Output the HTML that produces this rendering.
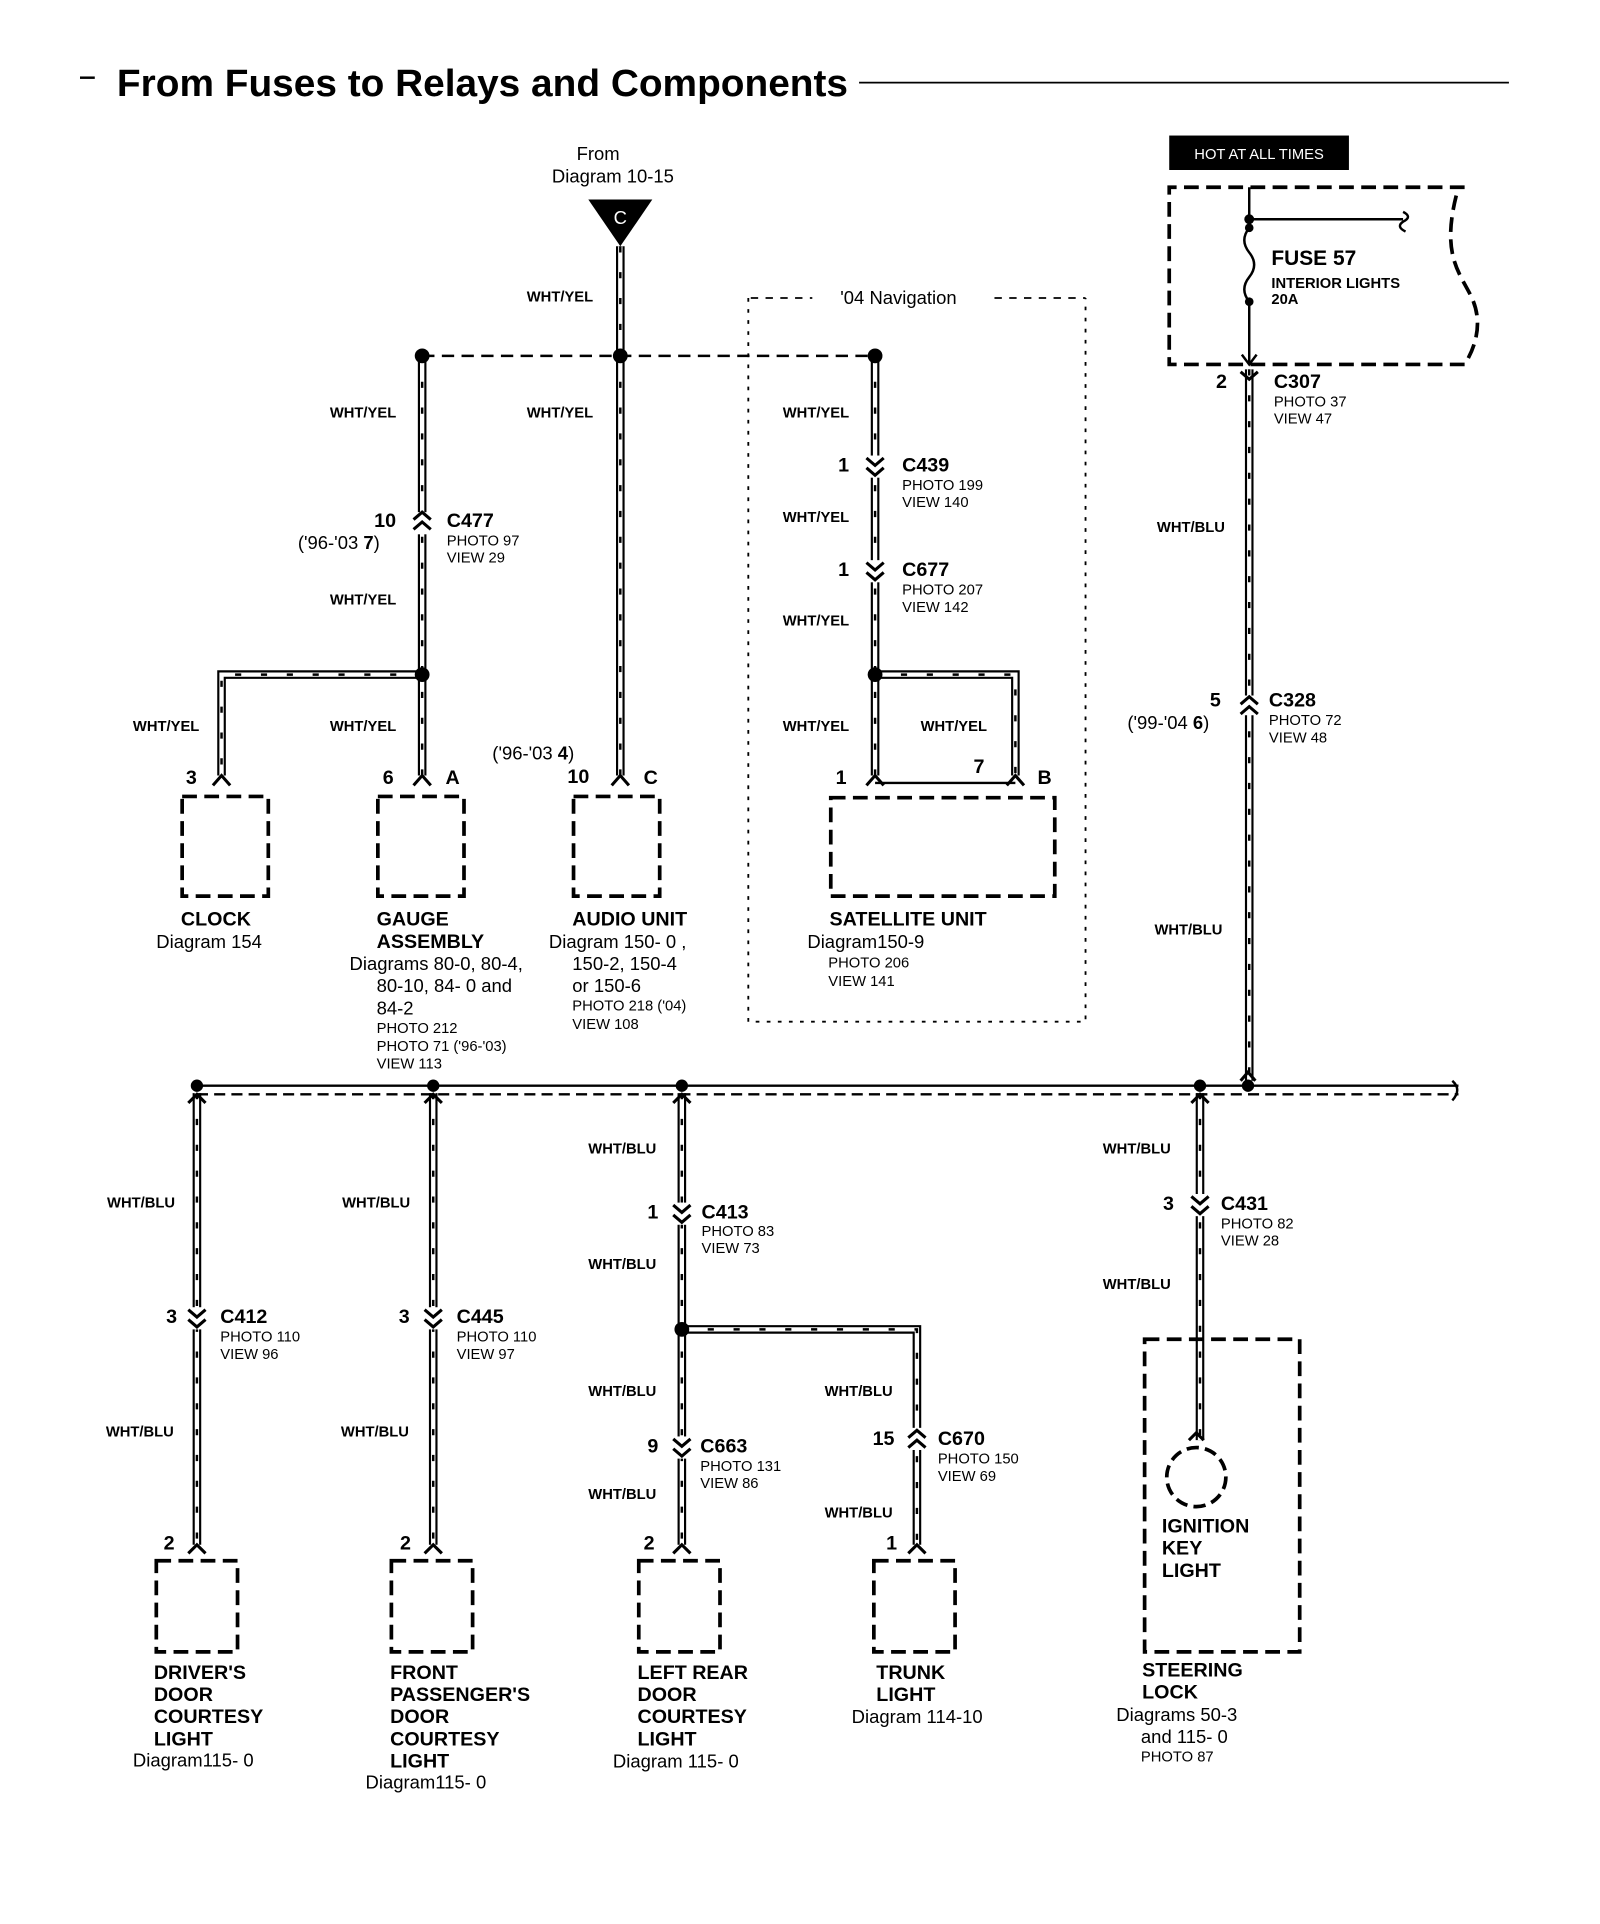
<!DOCTYPE html>
<html><head><meta charset="utf-8"><style>
html,body{margin:0;padding:0;background:#fff}
svg{display:block}
text{font-family:"Liberation Sans Narrow","Liberation Sans",sans-serif;fill:#000}
.b{font-weight:bold}
.s{font-size:12px}
.m{font-size:15px}
.l{font-size:16px;font-weight:bold}
.wl{font-size:12px;font-weight:bold}
.bx{fill:none;stroke:#000;stroke-width:3;stroke-dasharray:12 6}
.c{fill:none;stroke:#000;stroke-width:2.5}
</style></head><body>
<svg width="1600" height="1924" viewBox="0 0 1300 1563" xmlns="http://www.w3.org/2000/svg">
<g id="wires" fill="none">
<path class="wire" d="M504 200 V289"/>
<path class="wire" d="M343 289 V630"/>
<path class="wire" d="M343 548 H180 V630"/>
<path class="wire" d="M504 289 V630"/>
<path class="wire" d="M711 289 V630"/>
<path class="wire" d="M711 548 H825 V630"/>
<path class="wire" d="M1015 300 V878"/>
<path class="wire" d="M160 888 V1255"/>
<path class="wire" d="M352 888 V1255"/>
<path class="wire" d="M554 888 V1255"/>
<path class="wire" d="M554 1080 H745 V1255"/>
<path class="wire" d="M975 888 V1170"/>
</g>
<path d="M343 289 H711" stroke="#000" stroke-width="2" stroke-dasharray="10 6"/>
<circle cx="343" cy="289" r="6"/><circle cx="504" cy="289" r="6"/><circle cx="711" cy="289" r="6"/>
<circle cx="343" cy="548" r="6"/><circle cx="711" cy="548" r="6"/>
<circle cx="554" cy="1080" r="6"/>
<path d="M160 882 H1185" stroke="#000" stroke-width="2"/>
<path d="M160 889 H1185" stroke="#000" stroke-width="2" stroke-dasharray="9 5"/>
<path d="M1180 878 q8 7 0 16" stroke="#000" stroke-width="2" fill="none"/>
<circle cx="160" cy="882" r="5"/><circle cx="352" cy="882" r="5"/><circle cx="554" cy="882" r="5"/><circle cx="975" cy="882" r="5"/><circle cx="1014" cy="882" r="5"/>
<path d="M65 63 H77" stroke="#000" stroke-width="2"/>
<text x="95" y="78" class="b" textLength="594" lengthAdjust="spacingAndGlyphs" style="font-size:31px;font-family:'Liberation Sans',sans-serif">From Fuses to Relays and Components</text>
<path d="M698 67 H1226" stroke="#000" stroke-width="1.5"/>
<text x="486" y="130" class="m" text-anchor="middle">From</text>
<text x="498" y="148" class="m" text-anchor="middle">Diagram 10-15</text>
<path d="M478 162 H530 L504 200 Z"/>
<text x="504" y="182" class="m" text-anchor="middle" style="fill:#fff">C</text>
<path d="M608 242 V830 H882 V242" fill="none" stroke="#000" stroke-width="1.5" stroke-dasharray="3 6"/>
<path d="M610 242 H660 M808 242 H882" stroke="#000" stroke-width="1.5" stroke-dasharray="6 6"/>
<text x="730" y="247" class="m" text-anchor="middle">'04 Navigation</text>
<g class="c">
<rect x="334" y="416" width="18" height="18" fill="#fff" stroke="none"/>
<path d="M336 422 L343 416 L350 422 M336 430 L343 424 L350 430"/>
<rect x="702" y="370" width="18" height="18" fill="#fff" stroke="none"/>
<path d="M704 372 L711 378 L718 372 M704 380 L711 386 L718 380"/>
<rect x="702" y="455" width="18" height="18" fill="#fff" stroke="none"/>
<path d="M704 457 L711 463 L718 457 M704 465 L711 471 L718 465"/>
<path d="M173 638 L180 630 L187 638 M336 638 L343 630 L350 638 M497 638 L504 630 L511 638 M704 638 L711 630 L718 638 M818 638 L825 630 L832 638"/>
</g>
<path d="M711 636 H825" stroke="#000" stroke-width="2"/>
<text x="428" y="245" class="wl">WHT/YEL</text>
<text x="268" y="339" class="wl">WHT/YEL</text>
<text x="428" y="339" class="wl">WHT/YEL</text>
<text x="636" y="339" class="wl">WHT/YEL</text>
<text x="636" y="424" class="wl">WHT/YEL</text>
<text x="636" y="508" class="wl">WHT/YEL</text>
<text x="268" y="491" class="wl">WHT/YEL</text>
<text x="108" y="594" class="wl">WHT/YEL</text>
<text x="268" y="594" class="wl">WHT/YEL</text>
<text x="636" y="594" class="wl">WHT/YEL</text>
<text x="748" y="594" class="wl">WHT/YEL</text>
<text x="304" y="428" class="l">10</text><text x="363" y="428" class="l">C477</text>
<text x="242" y="446" class="m">('96-'03 <tspan class="b">7</tspan>)</text>
<text x="363" y="443" class="s">PHOTO 97</text><text x="363" y="457" class="s">VIEW 29</text>
<text x="681" y="383" class="l">1</text><text x="733" y="383" class="l">C439</text>
<text x="733" y="398" class="s">PHOTO 199</text><text x="733" y="412" class="s">VIEW 140</text>
<text x="681" y="468" class="l">1</text><text x="733" y="468" class="l">C677</text>
<text x="733" y="483" class="s">PHOTO 207</text><text x="733" y="497" class="s">VIEW 142</text>
<text x="400" y="617" class="m">('96-'03 <tspan class="b">4</tspan>)</text>
<text x="151" y="637" class="l">3</text>
<text x="311" y="637" class="l">6</text><text x="362" y="637" class="l">A</text>
<text x="461" y="636" class="l">10</text><text x="523" y="637" class="l">C</text>
<text x="679" y="637" class="l">1</text><text x="791" y="628" class="l">7</text><text x="843" y="637" class="l">B</text>
<rect x="148" y="647" width="70" height="81" class="bx"/>
<rect x="307" y="647" width="70" height="81" class="bx"/>
<rect x="466" y="647" width="70" height="81" class="bx"/>
<rect x="675" y="648" width="182" height="80" class="bx"/>
<text x="147" y="752" class="l">CLOCK</text>
<text x="127" y="770" class="m">Diagram 154</text>
<text x="306" y="752" class="l">GAUGE</text>
<text x="306" y="770" class="l">ASSEMBLY</text>
<text x="284" y="788" class="m">Diagrams 80-0, 80-4,</text>
<text x="306" y="806" class="m">80-10, 84- 0 and</text>
<text x="306" y="824" class="m">84-2</text>
<text x="306" y="839" class="s">PHOTO 212</text>
<text x="306" y="854" class="s">PHOTO 71 ('96-'03)</text>
<text x="306" y="868" class="s">VIEW 113</text>
<text x="465" y="752" class="l">AUDIO UNIT</text>
<text x="446" y="770" class="m">Diagram 150- 0 ,</text>
<text x="465" y="788" class="m">150-2, 150-4</text>
<text x="465" y="806" class="m">or 150-6</text>
<text x="465" y="821" class="s">PHOTO 218 ('04)</text>
<text x="465" y="836" class="s">VIEW 108</text>
<text x="674" y="752" class="l">SATELLITE UNIT</text>
<text x="656" y="770" class="m">Diagram150-9</text>
<text x="673" y="786" class="s">PHOTO 206</text>
<text x="673" y="801" class="s">VIEW 141</text>
<rect x="950" y="110" width="146" height="28"/>
<text x="1023" y="129" class="s" text-anchor="middle" style="fill:#fff">HOT AT ALL TIMES</text>
<path d="M1190 152 H950 V296 H1190 C1200 280 1205 260 1195 240 C1185 220 1170 205 1185 152" fill="none" stroke="#000" stroke-width="3" stroke-dasharray="12 6"/>
<path d="M1015 152 V185 M1015 245 V296 M1015 178 H1140 M1009 288 L1015 296 L1021 288" fill="none" stroke="#000" stroke-width="2"/>
<path d="M1140 172 q8 4 0 8 q-6 4 2 8" fill="none" stroke="#000" stroke-width="2"/>
<path d="M1015 185 q-8 10 0 20 q8 10 0 20 q-8 10 0 20" fill="none" stroke="#000" stroke-width="2"/>
<circle cx="1015" cy="178" r="4"/><circle cx="1015" cy="185" r="3.5"/><circle cx="1015" cy="245" r="3.5"/>
<text x="1033" y="215" class="l" style="font-size:17px">FUSE 57</text>
<text x="1033" y="234" class="b s">INTERIOR LIGHTS</text>
<text x="1033" y="247" class="b s">20A</text>
<g class="c">
<path d="M1008 302 L1015 308 L1022 302"/>
<rect x="1006" y="565" width="18" height="16" fill="#fff" stroke="none"/>
<path d="M1008 572 L1015 566 L1022 572 M1008 580 L1015 574 L1022 580"/>
<path d="M1008 878 L1014 871 L1020 878"/>
</g>
<text x="988" y="315" class="l">2</text><text x="1035" y="315" class="l">C307</text>
<text x="1035" y="330" class="s">PHOTO 37</text><text x="1035" y="344" class="s">VIEW 47</text>
<text x="940" y="432" class="wl">WHT/BLU</text>
<text x="983" y="574" class="l">5</text><text x="1031" y="574" class="l">C328</text>
<text x="916" y="592" class="m">('99-'04 <tspan class="b">6</tspan>)</text>
<text x="1031" y="589" class="s">PHOTO 72</text><text x="1031" y="603" class="s">VIEW 48</text>
<text x="938" y="759" class="wl">WHT/BLU</text>
<g class="c">
<path d="M153 896 L160 889 L167 896 M345 896 L352 889 L359 896 M547 896 L554 889 L561 896 M968 896 L975 889 L982 896"/>
<rect x="151" y="1062" width="18" height="18" fill="#fff" stroke="none"/>
<path d="M153 1064 L160 1070 L167 1064 M153 1072 L160 1078 L167 1072"/>
<rect x="343" y="1062" width="18" height="18" fill="#fff" stroke="none"/>
<path d="M345 1064 L352 1070 L359 1064 M345 1072 L352 1078 L359 1072"/>
<rect x="545" y="977" width="18" height="18" fill="#fff" stroke="none"/>
<path d="M547 979 L554 985 L561 979 M547 987 L554 993 L561 987"/>
<rect x="545" y="1167" width="18" height="18" fill="#fff" stroke="none"/>
<path d="M547 1169 L554 1175 L561 1169 M547 1177 L554 1183 L561 1177"/>
<rect x="736" y="1160" width="18" height="18" fill="#fff" stroke="none"/>
<path d="M738 1168 L745 1162 L752 1168 M738 1176 L745 1170 L752 1176"/>
<rect x="966" y="970" width="18" height="18" fill="#fff" stroke="none"/>
<path d="M968 972 L975 978 L982 972 M968 980 L975 986 L982 980"/>
<path d="M153 1262 L160 1255 L167 1262 M345 1262 L352 1255 L359 1262 M547 1262 L554 1255 L561 1262 M738 1262 L745 1255 L752 1262"/>
</g>
<text x="87" y="981" class="wl">WHT/BLU</text>
<text x="278" y="981" class="wl">WHT/BLU</text>
<text x="478" y="937" class="wl">WHT/BLU</text>
<text x="478" y="1031" class="wl">WHT/BLU</text>
<text x="896" y="937" class="wl">WHT/BLU</text>
<text x="896" y="1047" class="wl">WHT/BLU</text>
<text x="86" y="1167" class="wl">WHT/BLU</text>
<text x="277" y="1167" class="wl">WHT/BLU</text>
<text x="478" y="1134" class="wl">WHT/BLU</text>
<text x="478" y="1218" class="wl">WHT/BLU</text>
<text x="670" y="1134" class="wl">WHT/BLU</text>
<text x="670" y="1233" class="wl">WHT/BLU</text>
<text x="135" y="1075" class="l">3</text><text x="179" y="1075" class="l">C412</text>
<text x="179" y="1090" class="s">PHOTO 110</text><text x="179" y="1104" class="s">VIEW 96</text>
<text x="324" y="1075" class="l">3</text><text x="371" y="1075" class="l">C445</text>
<text x="371" y="1090" class="s">PHOTO 110</text><text x="371" y="1104" class="s">VIEW 97</text>
<text x="526" y="990" class="l">1</text><text x="570" y="990" class="l">C413</text>
<text x="570" y="1004" class="s">PHOTO 83</text><text x="570" y="1018" class="s">VIEW 73</text>
<text x="945" y="983" class="l">3</text><text x="992" y="983" class="l">C431</text>
<text x="992" y="998" class="s">PHOTO 82</text><text x="992" y="1012" class="s">VIEW 28</text>
<text x="526" y="1180" class="l">9</text><text x="569" y="1180" class="l">C663</text>
<text x="569" y="1195" class="s">PHOTO 131</text><text x="569" y="1209" class="s">VIEW 86</text>
<text x="709" y="1174" class="l">15</text><text x="762" y="1174" class="l">C670</text>
<text x="762" y="1189" class="s">PHOTO 150</text><text x="762" y="1203" class="s">VIEW 69</text>
<text x="133" y="1259" class="l">2</text><text x="325" y="1259" class="l">2</text><text x="523" y="1259" class="l">2</text><text x="720" y="1259" class="l">1</text>
<rect x="127" y="1268" width="66" height="74" class="bx"/>
<rect x="318" y="1268" width="66" height="74" class="bx"/>
<rect x="519" y="1268" width="66" height="74" class="bx"/>
<rect x="710" y="1268" width="66" height="74" class="bx"/>
<rect x="930" y="1088" width="126" height="254" class="bx"/>
<circle cx="972" cy="1200" r="24" fill="none" stroke="#000" stroke-width="3" stroke-dasharray="10 5"/>
<path d="M966 1170 L972 1164 L978 1170" fill="none" stroke="#000" stroke-width="2.5"/>
<text x="944" y="1245" class="l">IGNITION</text><text x="944" y="1263" class="l">KEY</text><text x="944" y="1281" class="l">LIGHT</text>
<g class="l">
<text x="125" y="1364">DRIVER'S</text><text x="125" y="1382">DOOR</text><text x="125" y="1400">COURTESY</text><text x="125" y="1418">LIGHT</text>
<text x="317" y="1364">FRONT</text><text x="317" y="1382">PASSENGER'S</text><text x="317" y="1400">DOOR</text><text x="317" y="1418">COURTESY</text><text x="317" y="1436">LIGHT</text>
<text x="518" y="1364">LEFT REAR</text><text x="518" y="1382">DOOR</text><text x="518" y="1400">COURTESY</text><text x="518" y="1418">LIGHT</text>
<text x="712" y="1364">TRUNK</text><text x="712" y="1382">LIGHT</text>
<text x="928" y="1362">STEERING</text><text x="928" y="1380">LOCK</text>
</g>
<text x="108" y="1435" class="m">Diagram115- 0</text>
<text x="297" y="1453" class="m">Diagram115- 0</text>
<text x="498" y="1436" class="m">Diagram 115- 0</text>
<text x="692" y="1400" class="m">Diagram 114-10</text>
<text x="907" y="1398" class="m">Diagrams 50-3</text>
<text x="927" y="1416" class="m">and 115- 0</text>
<text x="927" y="1431" class="s">PHOTO 87</text>
</svg>
<script>
(function(){
var ns="http://www.w3.org/2000/svg",g=document.getElementById("wires");
var ws=[].slice.call(g.querySelectorAll(".wire"));
ws.forEach(function(p){
 var d=p.getAttribute("d");
 function mk(w,c,da){var e=document.createElementNS(ns,"path");e.setAttribute("d",d);e.setAttribute("stroke",c);e.setAttribute("stroke-width",w);e.setAttribute("fill","none");if(da)e.setAttribute("stroke-dasharray",da);g.insertBefore(e,p);return e;}
 mk(7,"#000");mk(3.5,"#fff");mk(2,"#000","5 16");
 p.remove();
});
})();
</script>
</body></html>
